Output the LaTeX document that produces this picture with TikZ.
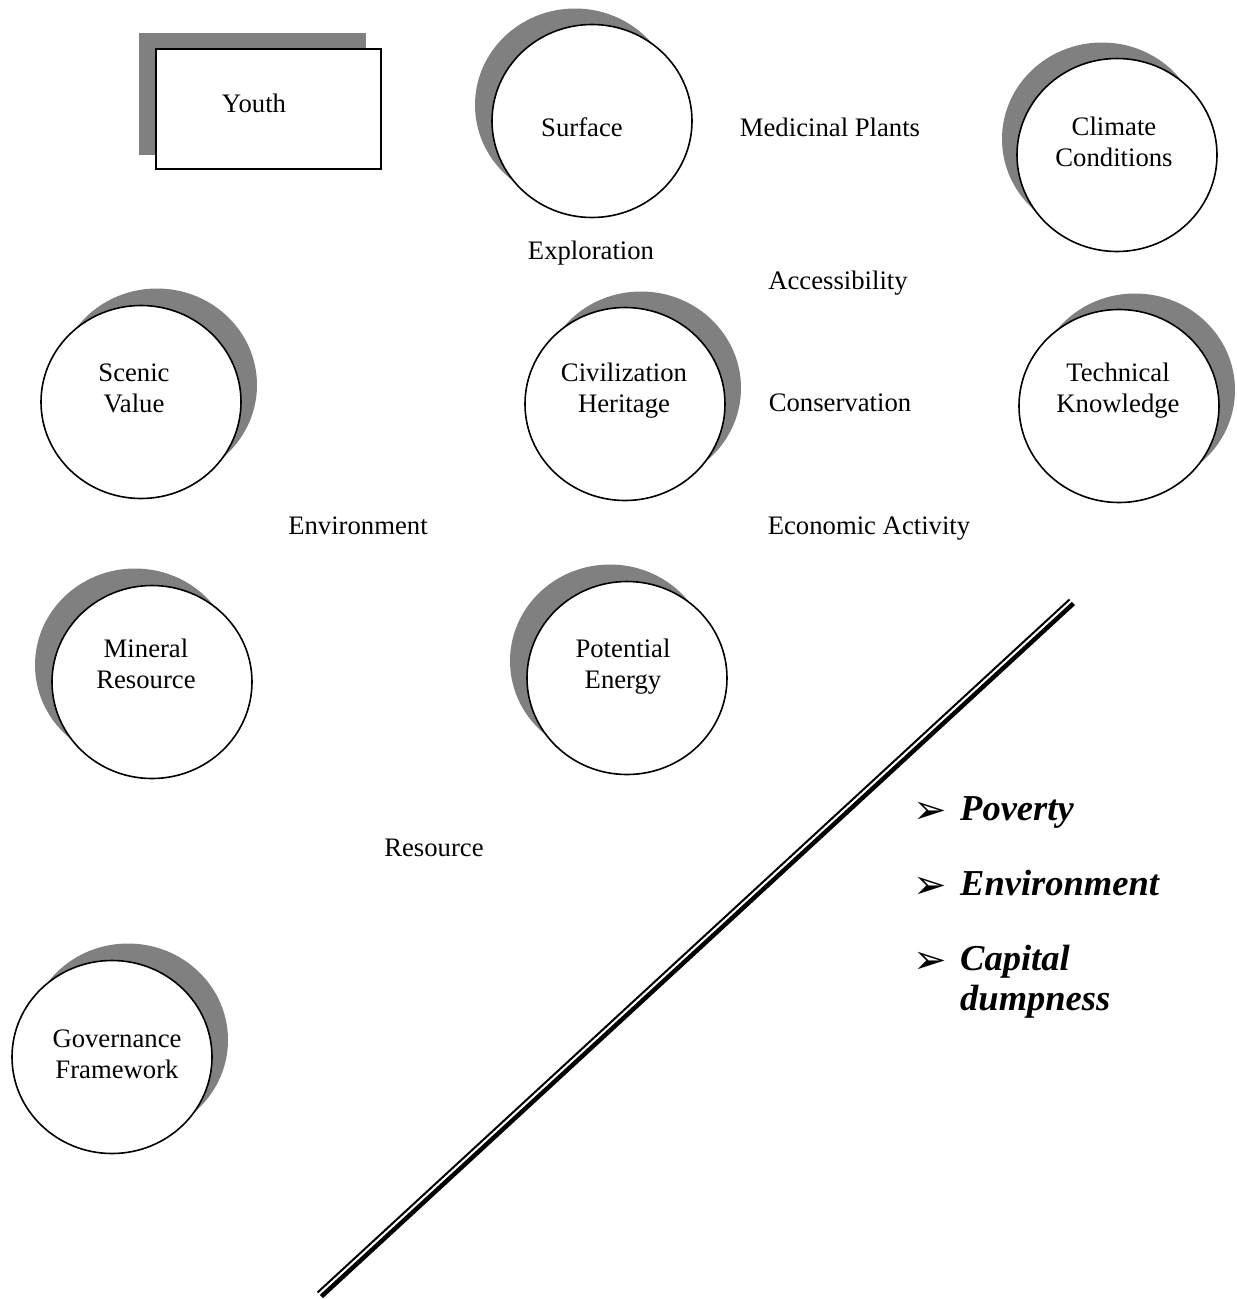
\documentclass[tikz,border=0pt]{standalone}
\usepackage{fontspec}
\setmainfont{Liberation Serif}
\newfontfamily\symfont{DejaVu Sans}
\usetikzlibrary{shapes.geometric}
\definecolor{shadowgray}{RGB}{128,128,128}
\begin{document}
\begin{tikzpicture}[x=1pt,y=-1pt,
  oval/.style={ellipse, draw=black, line width=1.6pt, fill=white, minimum width=200pt, minimum height=193pt, inner sep=0pt},
  shadowoval/.style={ellipse, fill=shadowgray, minimum width=200pt, minimum height=193pt, inner sep=0pt},
  lbl/.style={font=\fontsize{26.7}{31}\selectfont, inner sep=0pt, align=center},
  big/.style={font=\fontsize{36.5}{40}\selectfont\bfseries\itshape, inner sep=0pt, anchor=base west},
  bul/.style={font=\symfont\fontsize{40}{40}\selectfont, inner sep=0pt, anchor=base west}
]
\useasboundingbox[fill=white] (0,0) rectangle (1237,1299);

% Youth box
\fill[shadowgray] (139,33) rectangle (366,155);
\node[draw=black, line width=1.6pt, fill=white, minimum width=225pt, minimum height=120pt, inner sep=0pt] (youth) at (268.5,109) {};
\node[lbl] (youtht) at (254,103) {Youth};

% shadows
\node[shadowoval] (surfs) at (575,105) {};
\node[shadowoval] (clims) at (1102,139) {};
\node[shadowoval] (scens) at (157,385) {};
\node[shadowoval] (civs) at (641,388) {};
\node[shadowoval] (techs) at (1135,390) {};
\node[shadowoval] (mins) at (135,665) {};
\node[shadowoval] (pots) at (610,661) {};
\node[shadowoval] (govs) at (128,1040) {};

% circles
\node[oval] (surf) at (592,121) {};
\node[oval] (clim) at (1117,155) {};
\node[oval] (scen) at (141,402) {};
\node[oval] (civ) at (625,404) {};
\node[oval] (tech) at (1119,406) {};
\node[oval] (min) at (152,682) {};
\node[oval] (pot) at (627,678) {};
\node[oval] (gov) at (112,1057) {};

% circle texts
\node[lbl] (surft) at (582,127) {Surface};
\node[lbl] (climt) at (1114,142) {Climate\\Conditions};
\node[lbl] (scent) at (134,388) {Scenic\\Value};
\node[lbl] (civt) at (624,391) {Civilization\\Heritage};
\node[lbl] (techt) at (1118,391) {Technical\\Knowledge};
\node[lbl] (mint) at (146,664) {Mineral\\Resource};
\node[lbl] (pott) at (623,667) {Potential\\Energy};
\node[lbl] (govt) at (117,1054) {Governance\\Framework};

% free labels
\node[lbl] (medp) at (830,127) {Medicinal Plants};
\node[lbl] (expl) at (591,253) {Exploration};
\node[lbl] (acc) at (838,283) {Accessibility};
\node[lbl] (cons) at (840,403) {Conservation};
\node[lbl] (env) at (358,526) {Environment};
\node[lbl] (econ) at (869,529) {Economic Activity};
\node[lbl] (res) at (434,848) {Resource};

% double line
\coordinate (thinA) at (1069.6,599.4);
\coordinate (thinB) at (317.6,1292.4);
\coordinate (thickA) at (1073.4,603.5);
\coordinate (thickB) at (321.4,1296.5);
\draw[line width=2pt] (thinA) -- (thinB);
\draw[line width=4.5pt] (thickA) -- (thickB);

% bullet list
\node[bul] (b1) at (913,823) {➢};
\node[big] (t1) at (960,820) {Poverty};
\node[bul] (b2) at (913,898) {➢};
\node[big] (t2) at (960,895) {Environment};
\node[bul] (b3) at (913,973) {➢};
\node[big] (t3) at (960,970) {Capital};
\node[big] (t3b) at (960,1010) {dumpness};
\end{tikzpicture}
\end{document}
